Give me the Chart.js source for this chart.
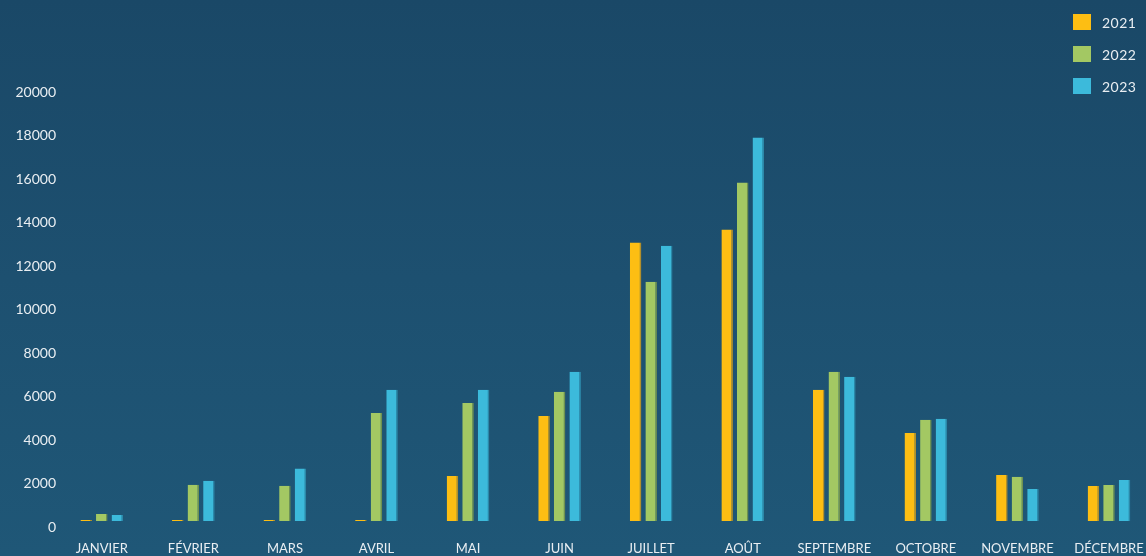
<!DOCTYPE html>
<html lang="fr">
<head>
<meta charset="utf-8">
<script src="https://cdn.jsdelivr.net/npm/chart.js@4"></script>
<style>
  html, body { margin: 0; padding: 0; width: 1146px; height: 556px; overflow: hidden; }
  body {
    position: relative;
    background: linear-gradient(180deg, #1a4867 0%, #1d5070 50%, #1f5777 100%);
    font-family: 'Lato', 'Open Sans', sans-serif;
  }
  #graphique { position: absolute; left: 0; top: 0; }
  #legende { position: absolute; left: 1073px; top: 6px; }
  .item { display: flex; align-items: center; height: 32px; }
  .boite { width: 18px; height: 16px; margin-right: 11px; }
  .texte { color: #e9eef2; font-size: 14px; letter-spacing: 0.5px; }
</style>
</head>
<body>
<canvas id="graphique" width="1164" height="556"></canvas>
<div id="legende"></div>
<script>
const mois = ['JANVIER', 'FÉVRIER', 'MARS', 'AVRIL', 'MAI', 'JUIN', 'JUILLET', 'AOÛT', 'SEPTEMBRE', 'OCTOBRE', 'NOVEMBRE', 'DÉCEMBRE'];
const annees = ['2021', '2022', '2023'];
const valeurs2021 = [50, 50, 50, 50, 2070, 4830, 12800, 13400, 6030, 4050, 2120, 1610];
const valeurs2022 = [320, 1670, 1620, 4970, 5430, 5940, 11000, 15560, 6860, 4650, 2030, 1660];
const valeurs2023 = [280, 1850, 2410, 6030, 6030, 6860, 12660, 17630, 6630, 4700, 1470, 1890];
const ticksY = [0, 2000, 4000, 6000, 8000, 10000, 12000, 14000, 16000, 18000, 20000];

const couleurs = ['#fdbe13', '#a3c863', '#3cbadb'];
const bordures = ['#b38f2a', '#6f9150', '#2b88a8'];

Chart.defaults.font.family = "'Lato', 'Open Sans', sans-serif";
Chart.defaults.color = '#e9eef2';

const series = [valeurs2021, valeurs2022, valeurs2023];

const ctx = document.getElementById('graphique').getContext('2d');
const graphique = new Chart(ctx, {
    type: 'bar',
    data: {
        labels: mois,
        datasets: annees.map((annee, i) => ({
            label: annee,
            data: series[i],
            backgroundColor: couleurs[i],
            borderColor: bordures[i],
            borderWidth: { top: 0, right: 1.5, bottom: 0, left: 0 },
            borderSkipped: false,
            categoryPercentage: 0.51,
            barPercentage: 0.74
        }))
    },
    options: {
        responsive: false,
        animation: false,
        layout: {
            padding: { top: 86, right: 6, left: 0, bottom: 0 }
        },
        plugins: {
            legend: { display: false },
            tooltip: { enabled: false }
        },
        scales: {
            x: {
                grid: { display: false, drawTicks: false },
                border: { display: false },
                ticks: {
                    autoSkip: false,
                    maxRotation: 0,
                    padding: 20,
                    font: { size: 13 },
                    color: '#e9eef2'
                },
                afterFit: function(scale) { scale.height = 35; }
            },
            y: {
                min: 0,
                max: ticksY[ticksY.length - 1],
                afterBuildTicks: function(scale) {
                    scale.ticks = ticksY.map(v => ({ value: v }));
                },
                grid: { display: false, drawTicks: false },
                border: { display: false },
                ticks: {
                    padding: 0,
                    labelOffset: 6,
                    font: { size: 14 },
                    color: '#e9eef2',
                    callback: function(value) { return String(value); }
                },
                afterFit: function(scale) { scale.width = 56; }
            }
        }
    }
});

// légende à droite, construite à partir des datasets
const legende = document.getElementById('legende');
graphique.data.datasets.forEach(ds => {
    const item = document.createElement('div');
    item.className = 'item';
    const boite = document.createElement('span');
    boite.className = 'boite';
    boite.style.background = ds.backgroundColor;
    const texte = document.createElement('span');
    texte.className = 'texte';
    texte.textContent = ds.label;
    item.appendChild(boite);
    item.appendChild(texte);
    legende.appendChild(item);
});
</script>
</body>
</html>
